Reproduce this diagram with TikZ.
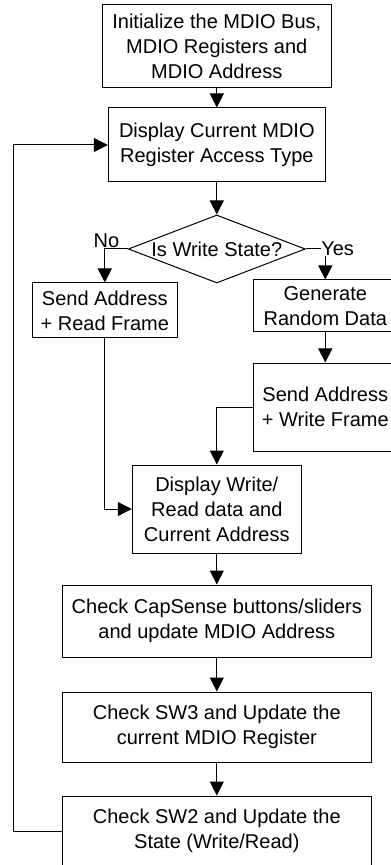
\documentclass[tikz,border=0pt]{standalone}
\usepackage{fontspec}
\setmainfont{Liberation Sans}
\usetikzlibrary{shapes.geometric,arrows.meta}

\tikzset{
  stepbox/.style={draw, rectangle, inner sep=0pt, align=center,
    font=\fontsize{10}{12.5}\selectfont},
  ask/.style={draw, diamond, aspect=2.6, inner sep=0pt,
    minimum width=88.5pt, minimum height=34pt,
    font=\fontsize{10}{12.5}\selectfont},
  wide/.style={minimum width=154.5pt, minimum height=35pt}
}

\begin{document}
\begin{tikzpicture}[line width=0.5pt, >={Triangle[length=7pt,width=7pt]},
    font=\fontsize{10}{12.5}\selectfont]
  \useasboundingbox (0,0) rectangle (195pt,-432.5pt);

  % main column
  \node (init) [stepbox, minimum width=114.5pt, minimum height=41.5pt] at (108.4pt,-23.25pt)
    {Initialize the MDIO Bus,\\MDIO Registers and\\MDIO Address};
  \node (disp) [stepbox, node distance=49.25pt, below of=init, minimum width=108.5pt, minimum height=37pt]
    {Display Current MDIO\\Register Access Type};
  \node (dec) [ask, node distance=52pt, below of=disp] {Is Write State?};

  % read / write branches
  \node (rd) [stepbox, node distance=30.75pt, below of=dec, xshift=-56pt, minimum width=72.5pt, minimum height=27.5pt]
    {Send Address\\+ Read Frame};
  \node (gen) [stepbox, node distance=28.5pt, below of=dec, xshift=54.25pt, minimum width=72pt, minimum height=26pt]
    {Generate\\Random Data};
  \node (wr) [stepbox, node distance=50.5pt, below of=gen, minimum width=72pt, minimum height=44pt]
    {Send Address\\+ Write Frame};

  \node (show) [stepbox, node distance=130pt, below of=dec, minimum width=84.5pt, minimum height=44pt]
    {Display Write/\\Read data and\\Current Address};
  \node (caps) [stepbox, wide, node distance=56pt, below of=show, minimum height=36pt]
    {Check CapSense buttons/sliders\\and update MDIO Address};
  \node (sw3) [stepbox, wide, node distance=53pt, below of=caps]
    {Check SW3 and Update the\\current MDIO Register};
  \node (sw2) [stepbox, wide, node distance=52pt, below of=sw3]
    {Check SW2 and Update the\\State (Write/Read)};

  \node (no) [anchor=south east, inner sep=0pt, xshift=-4pt, yshift=0.5pt] at (dec.west) {No};

  \draw[->] (init) -- (disp);
  \draw[->] (disp) -- (dec);
  \draw[->] (dec.west) -| (rd.north);
  \draw (dec.east) -- ++(7.5pt,0) node[right, inner sep=0pt] (yes) {Yes};
  \draw[->] (yes.south -| gen.north) -- (gen.north);
  \draw[->] (gen) -- (wr);
  \draw[->] (wr.west) -| (show.north);
  \draw[->] (rd.south) |- (show.west);
  \draw[->] (show) -- (caps);
  \draw[->] (caps) -- (sw3);
  \draw[->] (sw3) -- (sw2);
  \draw[->] (sw2.west) -- ++(-24pt,0) |- (disp.west);
\end{tikzpicture}
\end{document}
